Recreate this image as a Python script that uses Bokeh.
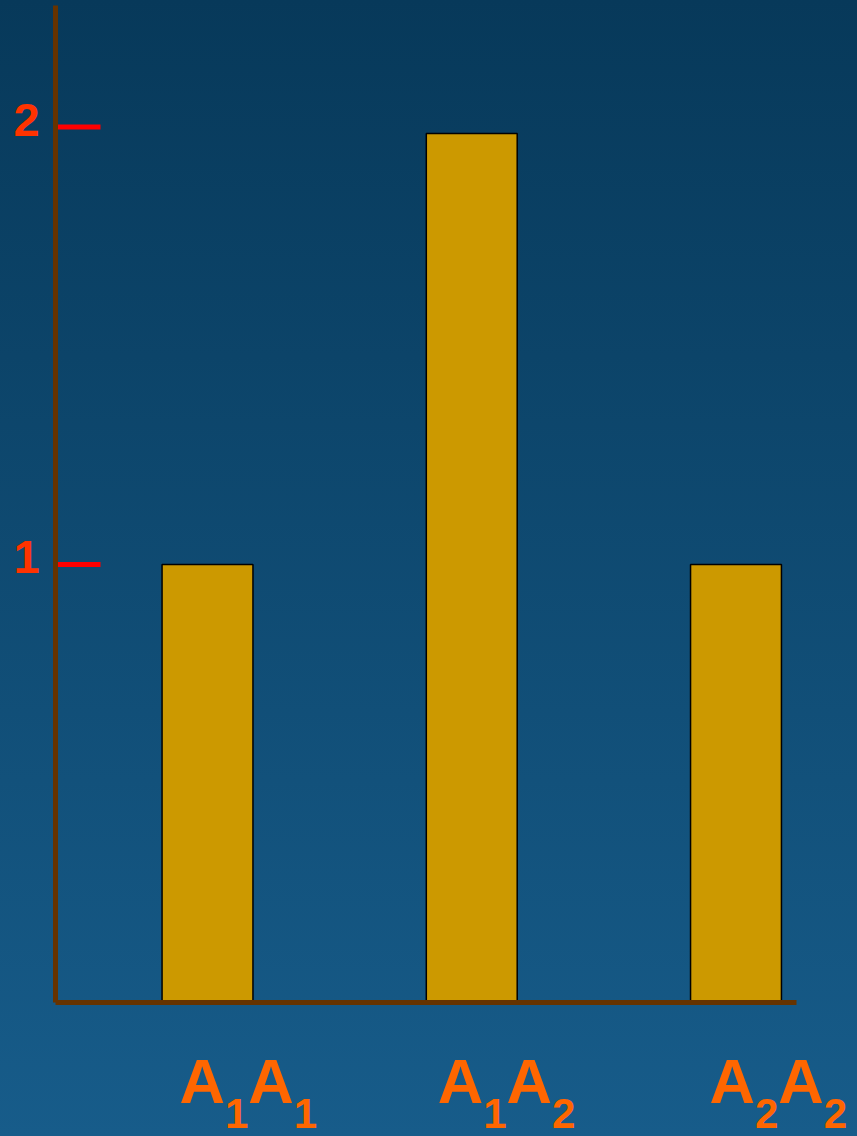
import numpy as np
from bokeh.core.properties import value
from bokeh.embed import file_html
from bokeh.models import ColumnDataSource, FixedTicker, LabelSet, Range1d
from bokeh.plotting import figure
from bokeh.resources import INLINE

# Relative values of the three genotypes
genotypes = ["A1A1", "A1A2", "A2A2"]
allele_pairs = [("1", "1"), ("1", "2"), ("2", "2")]
values = [1.0, 1.985, 1.0]

# Y-axis ticks
y_ticks = [1, 2]
y_tick_labels = ["1", "2"]

AXIS_BROWN = "#663300"
BAR_GOLD = "#cc9900"
LABEL_ORANGE = "#ff6600"
TICK_RED = "#ff0000"
TICK_LABEL_RED = "#ff3300"
FONT = "Liberation Sans"

# Data extents of the drawn axes
X_AXIS_AT = -0.5752   # where the vertical axis stands
X_END = 2.229         # where the horizontal axis stops
Y_TOP = 2.278         # where the vertical axis stops

idx = np.arange(len(genotypes))
bars = ColumnDataSource(dict(x=idx, top=values, name=genotypes))

p = figure(
    width=857, height=1136,
    x_range=Range1d(-0.7834, 2.4598), y_range=Range1d(-0.3074, 2.2891),
    output_backend="svg", toolbar_location=None,
    min_border=0,
)
p.background_fill_alpha = 0
p.border_fill_alpha = 0
p.outline_line_color = None
p.styles = {"background": "linear-gradient(to bottom, #07395a 0%, #175c8a 100%)"}
p.xgrid.visible = False
p.ygrid.visible = False

p.vbar(x="x", top="top", bottom=0, width=0.344, source=bars,
       fill_color=BAR_GOLD, line_color="black", line_width=1.5)

# Vertical axis: brown line from 0 upward
ya = p.yaxis[0]
ya.fixed_location = X_AXIS_AT
ya.bounds = (0, Y_TOP)
ya.ticker = FixedTicker(ticks=[])
ya.axis_line_color = AXIS_BROWN
ya.axis_line_width = 5
ya.major_tick_line_color = None
ya.minor_tick_line_color = None

# Horizontal axis: plain brown baseline at y = 0
xa = p.xaxis[0]
xa.fixed_location = 0
xa.bounds = (X_AXIS_AT, X_END)
xa.ticker = FixedTicker(ticks=[])
xa.axis_line_color = AXIS_BROWN
xa.axis_line_width = 5
xa.major_tick_line_color = None
xa.minor_tick_line_color = None

# Red tick marks pointing into the plot at 1 and 2
ticks = ColumnDataSource(dict(x=[X_AXIS_AT] * len(y_ticks), y=y_ticks, text=y_tick_labels))
p.ray(x="x", y="y", length=45, length_units="screen", angle=0, source=ticks,
      line_color=TICK_RED, line_width=5)

# Tick numbers beside the vertical axis
tick_text = LabelSet(
    x="x", y="y", text="text", x_offset=-16, y_offset=-9,
    text_font_size="47px", text_font=value(FONT), text_font_style="bold",
    text_color=TICK_LABEL_RED, text_baseline="alphabetic", text_align="right",
    source=ticks,
)
p.add_layout(tick_text)

# Genotype labels "A<sub>A<sub>", laid out piece by piece under each bar
big, small = 63, 42
adv_big, adv_small = 0.722 * big, 0.556 * small
nudge = [-28, -34, -26.5]
base_big, base_small = -100.5, -125.5
pieces = dict(x=[], text=[], dx=[], dy=[], fs=[])
for i, (a, b) in enumerate(allele_pairs):
    offs = nudge[i]
    for txt, size, adv, dy in (("A", big, adv_big, base_big), (a, small, adv_small, base_small),
                               ("A", big, adv_big, base_big), (b, small, adv_small, base_small)):
        pieces["x"].append(int(idx[i]))
        pieces["text"].append(txt)
        pieces["dx"].append(offs)
        pieces["dy"].append(dy)
        pieces["fs"].append(f"{size}px")
        offs += adv
pieces["y"] = [0] * len(pieces["x"])

labels = LabelSet(
    x="x", y="y", text="text", x_offset="dx", y_offset="dy",
    text_font_size="fs", text_font=value(FONT), text_font_style="bold",
    text_color=LABEL_ORANGE, text_baseline="alphabetic", text_align="left",
    source=ColumnDataSource(pieces),
)
p.add_layout(labels)

open("out.html", "w").write(file_html(p, INLINE))
